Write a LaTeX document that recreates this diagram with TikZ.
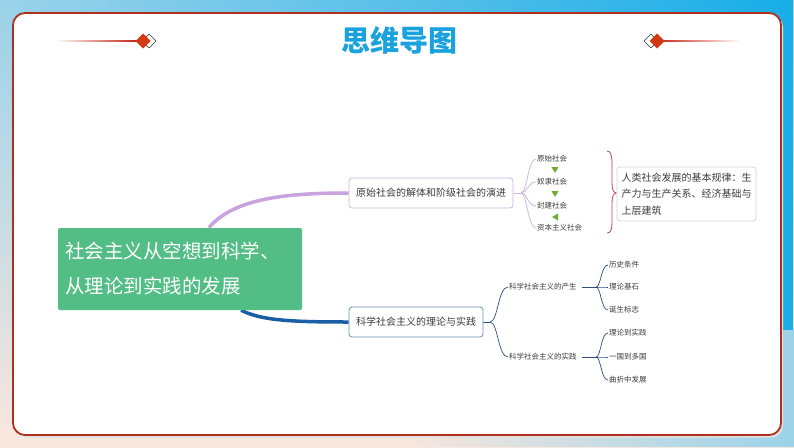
\documentclass[tikz,border=0pt]{standalone}
\usepackage{fontspec}
\setmainfont{Noto Sans CJK SC}
\usetikzlibrary{fadings}
\tikzfading[name=fromleft, left color=transparent!100, right color=transparent!0]
\tikzfading[name=fromright, left color=transparent!0, right color=transparent!100]
\definecolor{bgtop}{HTML}{9BD3EA}
\definecolor{bgbot}{HTML}{FAE7DE}
\definecolor{bgblue}{HTML}{18AEE8}
\definecolor{framered}{HTML}{B0301E}
\definecolor{decred}{HTML}{C8200F}
\definecolor{diamred}{HTML}{D23A12}
\definecolor{titleblue}{HTML}{19A2DE}
\definecolor{rootgreen}{HTML}{52BD84}
\definecolor{mainpurple}{HTML}{C9A2E0}
\definecolor{boxpurple}{HTML}{CDB8DF}
\definecolor{mainblue}{HTML}{1A5FA6}
\definecolor{boxblue}{HTML}{6A90B8}
\definecolor{txtgray}{HTML}{3C3C3C}
\definecolor{leafblue}{HTML}{2D4F7C}
\definecolor{trigreen}{HTML}{6AB030}
\definecolor{bracered}{HTML}{B8485A}
\definecolor{boxgray}{HTML}{D2D2DA}
\pgfdeclarelayer{back}
\pgfdeclarelayer{conn}
\pgfsetlayers{back,conn,main}
\tikzset{
  rootbox/.style={fill=rootgreen, text=white, minimum width=244pt, minimum height=82pt,
    rounded corners=2pt, align=left, text width=230pt, inner sep=0pt,
    font=\fontsize{19.5}{35}\selectfont},
  evobox/.style={draw=boxpurple, line width=0.8pt, rounded corners=3pt, fill=white,
    minimum width=164pt, minimum height=30pt, inner sep=0pt, text=txtgray,
    font=\fontsize{10}{12}\selectfont},
  scibox/.style={evobox, draw=boxblue, minimum width=134pt},
  lawbox/.style={draw=boxgray, line width=0.8pt, rounded corners=3pt, fill=white,
    minimum height=54pt, text width=130pt, inner sep=4.5pt, align=left, text=txtgray,
    font=\fontsize{10}{16.5}\selectfont},
  leaf/.style={anchor=west, inner sep=1pt, text=txtgray, font=\fontsize{7.5}{9}\selectfont},
  purplelink/.style={draw=boxpurple, line width=0.8pt},
  bluelink/.style={draw=leafblue, line width=0.7pt},
  tri/.style={fill=trigreen}
}
\begin{document}
\begin{tikzpicture}[x=1pt,y=-1pt]
\useasboundingbox (0,0) rectangle (794,447);
\begin{pgfonlayer}{back}
  \shade[top color=bgtop, bottom color=bgbot] (0,0) rectangle (794,447);
  \fill[bgblue, path fading=fromleft] (0,0) rectangle (794,330);
  \fill[bgtop, path fading=fromleft] (400,330) rectangle (794,447);
  \fill[black!12] (15,15) [rounded corners=12pt] rectangle (783,437.5);
  \draw[draw=framered, line width=1.8pt, fill=white, rounded corners=12pt] (13,13) rectangle (781,435);
  % decorations
  \fill[decred, path fading=fromleft] (55,40.4) rectangle (138,41.8);
  \fill[decred, path fading=fromright] (656,40.4) rectangle (740,41.8);
  \draw[black!80, fill=white, line width=0.6pt] (149,34) -- (156,41) -- (149,48) -- (142,41) -- cycle;
  \fill[diamred] (143,33.5) -- (150.5,41) -- (143,48.5) -- (135.5,41) -- cycle;
  \draw[black!80, fill=white, line width=0.6pt] (651,34) -- (658,41) -- (651,48) -- (644,41) -- cycle;
  \fill[diamred] (657,33.5) -- (664.5,41) -- (657,48.5) -- (649.5,41) -- cycle;
\end{pgfonlayer}

\node[font=\fontsize{29}{32}\selectfont\bfseries, text=titleblue] (title) at (399,40) {思维导图};

\node[rootbox] (root) at (180,269) {社会主义从空想到科学、\\从理论到实践的发展};
\node[evobox] (evo) at (431,193) {原始社会的解体和阶级社会的演进};
\node[scibox] (sci) at (416,322) {科学社会主义的理论与实践};

\node[leaf] (a1) at (536,159) {原始社会};
\node[leaf] (a2) at (536,182) {奴隶社会};
\node[leaf] (a3) at (536,206) {封建社会};
\node[leaf] (a4) at (536,228) {资本主义社会};

\node[lawbox] (law) at (686.5,194) {人类社会发展的基本规律：生\\产力与生产关系、经济基础与\\上层建筑};

\node[leaf] (b1) at (508,287) {科学社会主义的产生};
\node[leaf] (b2) at (508,357) {科学社会主义的实践};
\node[leaf] (c1) at (608,265) {历史条件};
\node[leaf] (c2) at (608,287) {理论基石};
\node[leaf] (c3) at (608,310) {诞生标志};
\node[leaf] (c4) at (608,333) {理论到实践};
\node[leaf] (c5) at (608,357) {一国到多国};
\node[leaf] (c6) at (608,380) {曲折中发展};

\coordinate (j1) at (521,193);
\coordinate (j2) at (490,322);
\coordinate (j3) at (596,287);
\coordinate (j4) at (596,357);

\begin{pgfonlayer}{conn}
  \draw[draw=mainpurple, line width=3.5pt] (root.55) .. controls +(25,-30) and +(-60,0) .. (evo.west);
  \draw[draw=mainblue, line width=3.5pt] (root.-34) .. controls +(20,10) and +(-60,0) .. (sci.west);
  \draw[purplelink] (evo.east) -- (j1);
  \foreach \n in {a1,a2,a3,a4} \draw[purplelink] (j1) .. controls +(6,0) and +(-8,0) .. (\n.west);
  \draw[bluelink] (sci.east) -- (j2);
  \foreach \n in {b1,b2} \draw[bluelink] (j2) .. controls +(8,0) and +(-10,0) .. (\n.west);
  \draw[bluelink] ([xshift=4pt]b1.east) -- (j3);
  \draw[bluelink] ([xshift=4pt]b2.east) -- (j4);
  \foreach \n in {c1,c2,c3} \draw[bluelink] (j3) .. controls +(5,0) and +(-7,0) .. (\n.west);
  \foreach \n in {c4,c5,c6} \draw[bluelink] (j4) .. controls +(5,0) and +(-7,0) .. (\n.west);
\end{pgfonlayer}

% triangles
\fill[tri] (551.5,167) -- (558.5,167) -- (555,173) -- cycle;
\fill[tri] (551.5,191) -- (558.5,191) -- (555,197) -- cycle;
\fill[tri] (558,213.5) -- (558,220.5) -- (552,217) -- cycle;

% brace
\draw[draw=bracered, line width=0.8pt]
  (607,151) .. controls (611,151) and (612,156) .. (612,164) -- (612,183)
  .. controls (612,189) and (613,192) .. (616,193)
  .. controls (613,194) and (612,197) .. (612,203) -- (612,222)
  .. controls (612,229) and (611,233) .. (607,233);
\end{tikzpicture}
\end{document}
